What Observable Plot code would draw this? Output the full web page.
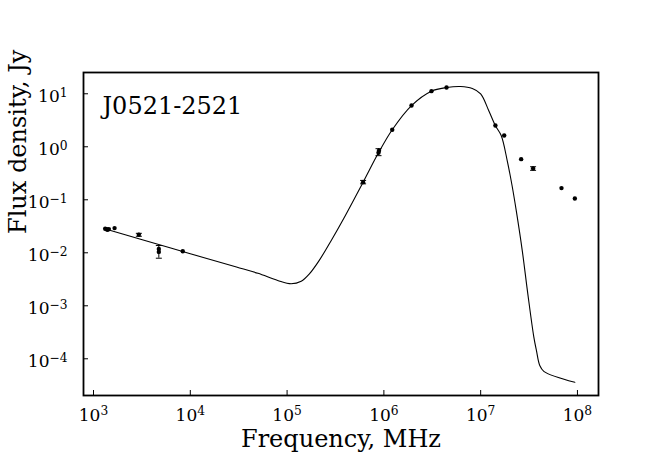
<!DOCTYPE html>
<html>
<head>
<meta charset="utf-8">
<script src="https://cdn.jsdelivr.net/npm/d3@7"></script>
<script src="https://cdn.jsdelivr.net/npm/@observablehq/plot@0.6"></script>
<style>
  html, body { margin: 0; padding: 0; background: #fff; }
  #chart { width: 664px; height: 470px; }
</style>
</head>
<body>
<div id="chart"></div>
<script>
// ---- Data ----
const title = "J0521-2521";
const xLabel = "Frequency, MHz";
const yLabel = "Flux density, Jy";

// Observed points
const obsFreq = [1320, 1360, 1400, 1440, 1650, 2940, 4730, 4730, 8360, 610000, 880000, 890000, 1220000, 1930000, 3100000, 4440000, 14200000, 17500000, 26200000, 34800000, 68400000, 94000000];
const obsFlux = [0.0285, 0.0278, 0.0272, 0.0280, 0.0292, 0.0219, 0.0118, 0.0104, 0.0107, 0.215, 0.77, 0.84, 2.1, 6.0, 11.2, 13.1, 2.52, 1.63, 0.584, 0.39, 0.166, 0.106];

// Error bars
const errFreq = [2940, 4730, 610000, 880000, 34800000];
const errLow  = [0.0205, 0.0079, 0.200, 0.68, 0.36];
const errHigh = [0.0233, 0.0137, 0.232, 0.92, 0.42];

// Model curve
const modelFreq = [1330, 3000, 10000, 30000, 50000, 80000, 110000, 140000, 170000, 215000, 288000, 386000, 610000, 880000, 1220000, 1930000, 3100000, 4440000, 6200000, 8200000, 10000000, 12100000, 14200000, 16300000, 18800000, 21100000, 23300000, 26900000, 30700000, 35400000, 37700000, 40800000, 44900000, 94000000];
const modelFlux = [0.028, 0.0182, 0.0096, 0.0054, 0.0041, 0.0030, 0.0026, 0.0029, 0.0040, 0.0072, 0.0175, 0.045, 0.215, 0.77, 2.1, 6.0, 11.2, 13.1, 13.7, 12.6, 10.0, 4.84, 2.5, 1.63, 0.55, 0.186, 0.063, 0.011, 0.00168, 0.00026, 0.000143, 0.000075, 0.000058, 0.000036];

// Ticks
const xTickExp = [3, 4, 5, 6, 7, 8];
const yTickExp = [1, 0, -1, -2, -3, -4];

// ---- Build tables ----
const obs = obsFreq.map((f, i) => ({f, s: obsFlux[i]}));
const errs = errFreq.map((f, i) => ({f, lo: errLow[i], hi: errHigh[i]}));
const model = modelFreq.map((f, i) => ({f, s: modelFlux[i]}));

const fmt = e => "10^" + e;

const W = 664, H = 470, mL = 83, mR = 66, mT = 72, mB = 75;
const pw = W - mL - mR, ph = H - mT - mB;

const capSymbol = { draw(ctx, size) { const r = 3; ctx.moveTo(-r, 0); ctx.lineTo(r, 0); } };

const chart = Plot.plot({
  width: W, height: H,
  marginLeft: mL, marginRight: mR, marginTop: mT, marginBottom: mB,
  style: { fontFamily: "DejaVu Serif", background: "#fff", color: "#000", overflow: "visible" },
  x: { type: "log", domain: [788, 1.65e8], axis: null },
  y: { type: "log", domain: [2.03e-5, 25.2], axis: null },
  marks: [
    // model curve
    Plot.line(model, {x: "f", y: "s", stroke: "#000", strokeWidth: 1.1, curve: "catmull-rom"}),
    // error bars
    Plot.ruleX(errs, {x: "f", y1: "lo", y2: "hi", stroke: "#000", strokeWidth: 1}),
    Plot.dot(errs, {x: "f", y: "lo", symbol: capSymbol, stroke: "#000", strokeWidth: 1, r: 3}),
    Plot.dot(errs, {x: "f", y: "hi", symbol: capSymbol, stroke: "#000", strokeWidth: 1, r: 3}),
    // points
    Plot.dot(obs, {x: "f", y: "s", r: 2.2, fill: "#000", stroke: "none"}),
    // inward ticks
    Plot.ruleX(xTickExp, {x: e => 10 ** e, insetTop: ph - 5, stroke: "#000", strokeWidth: 1}),
    Plot.ruleY(yTickExp, {y: e => 10 ** e, insetRight: pw - 5, stroke: "#000", strokeWidth: 1}),
    // tick labels
    Plot.text(xTickExp, {x: e => 10 ** e, frameAnchor: "bottom", lineAnchor: "bottom", dy: 25, text: fmt, fontSize: 17, fill: "#000", className: "suplabel"}),
    Plot.text(yTickExp, {y: e => 10 ** e, frameAnchor: "left", lineAnchor: "bottom", textAnchor: "end", dx: -16, dy: 8, text: fmt, fontSize: 17, fill: "#000", className: "suplabel"}),
    // title
    Plot.text([title], {frameAnchor: "top-left", textAnchor: "start", lineAnchor: "bottom", dx: 19, dy: 41, text: d => d, fontSize: 24, fill: "#000"}),
    // axis labels
    Plot.text([xLabel], {frameAnchor: "bottom", lineAnchor: "bottom", dy: 51, text: d => d, fontSize: 24, fill: "#000"}),
    Plot.text([yLabel], {frameAnchor: "left", lineAnchor: "bottom", rotate: -90, dx: -58, text: d => d, fontSize: 24, fill: "#000"}),
    // frame
    Plot.frame({stroke: "#000", strokeWidth: 1.8})
  ]
});

// turn "10^e" into 10 with a real superscript tspan
chart.querySelectorAll(".suplabel text").forEach(t => {
  const parts = t.textContent.split("^");
  if (parts.length !== 2) return;
  t.textContent = parts[0];
  const ts = document.createElementNS("http://www.w3.org/2000/svg", "tspan");
  ts.setAttribute("dy", "-0.42em");
  ts.setAttribute("font-size", "72%");
  ts.textContent = parts[1].replace("-", "\u2212");
  t.appendChild(ts);
});

document.getElementById("chart").appendChild(chart);
</script>
</body>
</html>
